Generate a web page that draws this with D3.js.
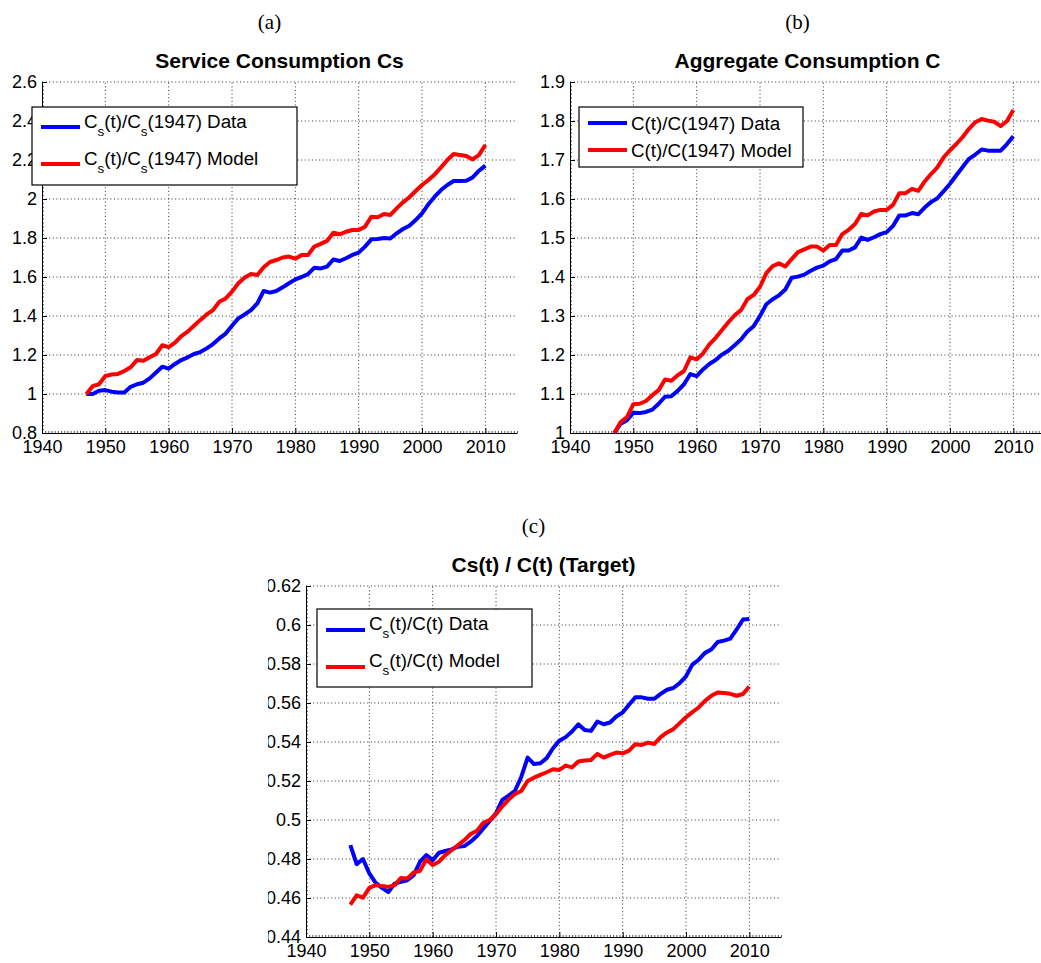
<!DOCTYPE html>
<html><head><meta charset="utf-8">
<script src="https://cdn.jsdelivr.net/npm/d3@7"></script>
<style>
body{margin:0;background:#fff}
svg{display:block}
text{font-family:Arial,"Liberation Sans",sans-serif}
</style>
</head><body>
<svg id="chart" width="1041" height="963"></svg>
<script>
// ---------- data ----------
const years = [1947,1948,1949,1950,1951,1952,1953,1954,1955,1956,
  1957,1958,1959,1960,1961,1962,1963,1964,1965,1966,
  1967,1968,1969,1970,1971,1972,1973,1974,1975,1976,
  1977,1978,1979,1980,1981,1982,1983,1984,1985,1986,
  1987,1988,1989,1990,1991,1992,1993,1994,1995,1996,
  1997,1998,1999,2000,2001,2002,2003,2004,2005,2006,
  2007,2008,2009,2010];

// (a) service consumption relative to 1947
const csData = [1.0,1.0,1.017,1.02,1.012,1.008,1.008,1.037,1.05,1.058,
  1.08,1.11,1.14,1.13,1.154,1.174,1.188,1.205,1.215,1.234,
  1.256,1.285,1.31,1.35,1.388,1.408,1.43,1.465,1.528,1.52,
  1.528,1.547,1.568,1.588,1.60,1.615,1.648,1.644,1.653,1.69,
  1.682,1.696,1.713,1.725,1.756,1.793,1.795,1.80,1.797,1.824,
  1.846,1.863,1.892,1.926,1.973,2.012,2.046,2.072,2.092,2.092,
  2.094,2.111,2.145,2.171];
const csModel = [1.0,1.04,1.05,1.092,1.1,1.103,1.118,1.137,1.174,1.17,
  1.188,1.205,1.25,1.24,1.263,1.297,1.32,1.35,1.38,1.408,
  1.43,1.473,1.49,1.525,1.568,1.597,1.615,1.61,1.65,1.677,
  1.687,1.70,1.705,1.694,1.713,1.713,1.756,1.77,1.785,1.827,
  1.819,1.832,1.841,1.841,1.858,1.909,1.906,1.923,1.918,1.952,
  1.983,2.009,2.041,2.072,2.097,2.126,2.162,2.2,2.231,2.226,
  2.221,2.203,2.226,2.277];

// (b) aggregate consumption relative to 1947
const cData = [1.0,1.024,1.033,1.052,1.051,1.054,1.06,1.075,1.093,1.094,
  1.108,1.125,1.151,1.146,1.163,1.177,1.187,1.201,1.211,1.225,
  1.24,1.26,1.274,1.30,1.33,1.343,1.353,1.368,1.398,1.401,
  1.406,1.416,1.424,1.429,1.44,1.446,1.468,1.468,1.476,1.501,
  1.495,1.502,1.51,1.515,1.531,1.558,1.558,1.564,1.561,1.578,
  1.592,1.602,1.62,1.639,1.661,1.682,1.703,1.714,1.727,1.724,
  1.724,1.724,1.741,1.761];
const cModel = [1.0,1.028,1.041,1.074,1.075,1.082,1.097,1.11,1.137,1.134,
  1.148,1.159,1.194,1.189,1.204,1.227,1.244,1.264,1.284,1.302,
  1.315,1.343,1.354,1.375,1.41,1.428,1.435,1.427,1.446,1.464,
  1.471,1.478,1.478,1.468,1.482,1.482,1.51,1.521,1.536,1.562,
  1.558,1.568,1.572,1.572,1.585,1.615,1.615,1.626,1.621,1.645,
  1.664,1.681,1.707,1.725,1.741,1.759,1.78,1.797,1.805,1.801,
  1.798,1.787,1.80,1.828];

// (c) share Cs/C
const ratioData = [0.4871,0.4774,0.48,0.4726,0.4678,0.4652,0.4631,0.4674,0.4683,0.4691,
  0.4717,0.4786,0.482,0.4794,0.4832,0.4841,0.4849,0.4863,0.4866,0.4889,
  0.4918,0.4957,0.4995,0.5034,0.5103,0.5125,0.515,0.5222,0.532,0.5287,
  0.5291,0.5317,0.5368,0.5407,0.5425,0.5454,0.5491,0.5462,0.5457,0.5505,
  0.5491,0.55,0.5531,0.5551,0.5591,0.5629,0.5629,0.5622,0.5622,0.5647,
  0.5668,0.5677,0.5702,0.5737,0.5797,0.5822,0.5857,0.5874,0.5913,0.592,
  0.593,0.5977,0.6028,0.6031];
const ratioModel = [0.4566,0.4614,0.4602,0.4652,0.4666,0.4661,0.4657,0.4666,0.4703,0.47,
  0.4731,0.4739,0.4798,0.4769,0.4786,0.482,0.4846,0.4871,0.4897,0.4928,
  0.4945,0.4986,0.50,0.5029,0.507,0.5105,0.5133,0.5149,0.52,0.5217,
  0.5231,0.5245,0.526,0.5257,0.5279,0.527,0.53,0.5305,0.5308,0.5339,
  0.532,0.5334,0.5346,0.5342,0.5356,0.5389,0.5385,0.5397,0.539,0.5425,
  0.5449,0.5466,0.5497,0.5527,0.5553,0.5577,0.5611,0.5637,0.5654,0.5651,
  0.5647,0.5637,0.5646,0.5685];

// ticks
const xTicks = [1940,1950,1960,1970,1980,1990,2000,2010];
const yTicksA = [0.8,1.0,1.2,1.4,1.6,1.8,2.0,2.2,2.4,2.6];
const yTicksB = [1.0,1.1,1.2,1.3,1.4,1.5,1.6,1.7,1.8,1.9];
const yTicksC = [0.44,0.46,0.48,0.50,0.52,0.54,0.56,0.58,0.60,0.62];
const yLabelsA = ["0.8","1","1.2","1.4","1.6","1.8","2","2.2","2.4","2.6"];
const yLabelsB = ["1","1.1","1.2","1.3","1.4","1.5","1.6","1.7","1.8","1.9"];
const yLabelsC = ["0.44","0.46","0.48","0.5","0.52","0.54","0.56","0.58","0.6","0.62"];

// ---------- drawing ----------
const svg = d3.select("#chart");
const defs = svg.append("defs");
const BLUE = "#0000ff", RED = "#ff0000";

function panel(cfg) {
  const g = svg.append("g");
  if (cfg.clipLeft != null) {
    defs.append("clipPath").attr("id", "clip" + cfg.id)
      .append("rect").attr("x", cfg.clipLeft).attr("y", 0).attr("width", 1041).attr("height", 963);
    g.attr("clip-path", `url(#clip${cfg.id})`);
  }
  const x = d3.scaleLinear().domain([1940, 2015]).range([cfg.left, cfg.left + 475]);
  const y = d3.scaleLinear().domain(cfg.yDomain).range([cfg.bottom, cfg.bottom - 351]);
  const [x0, x1] = x.range(), [y0, y1] = y.range();

  // panel letter & title
  svg.append("text").attr("x", (x0 + x1) / 2 - 10).attr("y", y1 - 53)
    .attr("text-anchor", "middle").style("font-family", '"Liberation Serif","Times New Roman",serif')
    .style("font-size", "21px").text(cfg.letter);
  svg.append("text").attr("x", (x0 + x1) / 2).attr("y", y1 - 14)
    .attr("text-anchor", "middle").style("font-weight", "bold").style("font-size", "21px")
    .text(cfg.title);

  // grid
  const grid = g.append("g").attr("stroke", "#333").attr("stroke-width", 1).attr("stroke-dasharray", "1,2.6");
  grid.selectAll("line.v").data(xTicks.filter(t => t > 1940)).join("line")
    .attr("x1", d => x(d)).attr("x2", d => x(d)).attr("y1", y0).attr("y2", y1);
  grid.selectAll("line.h").data(cfg.yTicks.slice(1)).join("line")
    .attr("x1", x0).attr("x2", x1).attr("y1", d => y(d)).attr("y2", d => y(d));

  // minor ticks
  const xMinor = d3.range(1940, 2015.01, 0.5);
  const step = (cfg.yTicks[1] - cfg.yTicks[0]) / 10;
  const yMinor = d3.range(cfg.yDomain[0], cfg.yDomain[1] + step / 2, step);
  g.append("g").attr("transform", `translate(0,${y0})`)
    .call(d3.axisBottom(x).tickValues(xMinor).tickSize(-2).tickFormat(""))
    .call(a => a.select(".domain").remove())
    .selectAll("line").attr("stroke", "#555");
  g.append("g").attr("transform", `translate(${x0},0)`)
    .call(d3.axisLeft(y).tickValues(yMinor).tickSize(-2).tickFormat(""))
    .call(a => a.select(".domain").remove())
    .selectAll("line").attr("stroke", "#555");

  // axes
  const ax = g.append("g").attr("transform", `translate(0,${y0})`)
    .call(d3.axisBottom(x).tickValues(xTicks).tickSizeInner(-5).tickSizeOuter(0).tickPadding(7).tickFormat(d3.format("d")));
  const ay = g.append("g").attr("transform", `translate(${x0},0)`)
    .call(d3.axisLeft(y).tickValues(cfg.yTicks).tickSizeInner(-5).tickSizeOuter(0).tickPadding(5)
      .tickFormat((d, i) => cfg.yLabels[i]));
  [ax, ay].forEach(a => {
    a.attr("font-family", null).attr("font-size", null);
    a.selectAll("text").style("font-size", "18px").attr("fill", "#000");
    a.select(".domain").attr("stroke", "#000");
    a.selectAll(".tick line").attr("stroke", "#000");
  });

  // series
  const line = vals => d3.line().x((d, i) => x(years[i])).y(d => y(d))(vals);
  g.append("path").attr("d", line(cfg.data)).attr("fill", "none").attr("stroke", BLUE)
    .attr("stroke-width", 4).attr("stroke-linejoin", "round");
  g.append("path").attr("d", line(cfg.model)).attr("fill", "none").attr("stroke", RED)
    .attr("stroke-width", 4).attr("stroke-linejoin", "round");

  // legend
  const L = cfg.legend;
  const lg = svg.append("g");
  lg.append("rect").attr("x", L.x).attr("y", L.y).attr("width", L.w).attr("height", L.h)
    .attr("fill", "#fff").attr("stroke", "#000").attr("stroke-width", 1.2);
  const entries = [{c: BLUE, parts: cfg.labels[0]}, {c: RED, parts: cfg.labels[1]}];
  entries.forEach((e, k) => {
    const ly = L.rows[k];
    lg.append("line").attr("x1", L.lx).attr("x2", L.lx + 39).attr("y1", ly).attr("y2", ly)
      .attr("stroke", e.c).attr("stroke-width", 4);
    const t = lg.append("text").attr("x", L.lx + 43).attr("y", ly + L.base).style("font-size", "18.8px");
    let shifted = false;
    e.parts.forEach(p => {
      const sub = p.startsWith("_");
      const ts = t.append("tspan").text(sub ? p.slice(1) : p);
      if (sub) { ts.attr("dy", 8).style("font-size", "13.5px"); shifted = true; }
      else if (shifted) { ts.attr("dy", -8); shifted = false; }
    });
  });
}

panel({
  id: "a", letter: "(a)", title: "Service Consumption Cs",
  left: 42, bottom: 433, yDomain: [0.8, 2.6], yTicks: yTicksA, yLabels: yLabelsA,
  data: csData, model: csModel,
  labels: [["C", "_s", "(t)/C", "_s", "(1947) Data"], ["C", "_s", "(t)/C", "_s", "(1947) Model"]],
  legend: {x: 32, y: 107, w: 265, h: 78, lx: 41, rows: [127, 164], base: 1}
});
panel({
  id: "b", letter: "(b)", title: "Aggregate Consumption C",
  left: 570, bottom: 433, yDomain: [1.0, 1.9], yTicks: yTicksB, yLabels: yLabelsB,
  data: cData, model: cModel,
  labels: [["C(t)/C(1947) Data"], ["C(t)/C(1947) Model"]],
  legend: {x: 579, y: 107, w: 224, h: 60, lx: 588, rows: [123, 150], base: 6.5}
});
panel({
  id: "c", letter: "(c)", title: "Cs(t) / C(t) (Target)",
  left: 306, bottom: 937, yDomain: [0.44, 0.62], yTicks: yTicksC, yLabels: yLabelsC,
  data: ratioData, model: ratioModel, clipLeft: 268,
  labels: [["C", "_s", "(t)/C(t) Data"], ["C", "_s", "(t)/C(t) Model"]],
  legend: {x: 317, y: 609, w: 215, h: 78, lx: 326, rows: [630, 667], base: 0}
});
</script>
</body></html>
